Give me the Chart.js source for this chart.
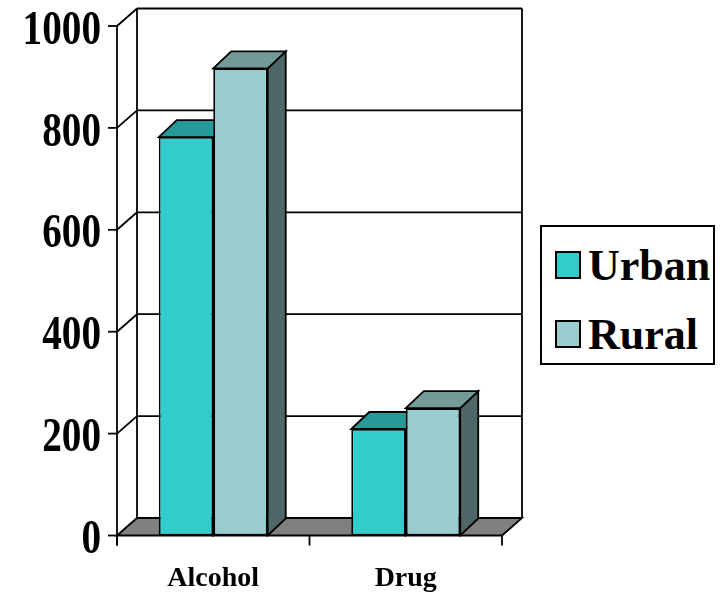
<!DOCTYPE html>
<html>
<head>
<meta charset="utf-8">
<script src="https://cdn.jsdelivr.net/npm/chart.js@4.4.1/dist/chart.umd.min.js"></script>
<style>
  body { margin: 0; background: #fff; }
  #wrap { position: relative; width: 724px; height: 595px; }
  #legend {
    position: absolute; left: 540px; top: 225px; width: 175px; height: 140px;
    border: 2px solid #000; box-sizing: border-box; background: #fff;
    font: bold 44px "Liberation Serif", "Times New Roman", serif;
  }
  #legend .row { position: absolute; left: 13px; height: 50px; display: flex; align-items: center; }
  #legend .sw { width: 26px; height: 28px; border: 2px solid #000; box-sizing: border-box; margin-right: 7px; }
</style>
</head>
<body>
<div id="wrap">
  <canvas id="chart" width="724" height="595"></canvas>
  <div id="legend"></div>
</div>
<script>
const categories = ["Alcohol", "Drug"];
const urban = [782, 209];
const rural = [917, 250];
const seriesNames = ["Urban", "Rural"];
const yMax = 1000;
const yStep = 200;

const DX = 20, DY = 17.5;   // depth of walls/floor
const BX = 18, BY = 17;     // depth of bars

function line(ctx, x1, y1, x2, y2) {
  ctx.beginPath(); ctx.moveTo(x1, y1); ctx.lineTo(x2, y2); ctx.stroke();
}
function poly(ctx, pts, fill) {
  ctx.beginPath();
  pts.forEach((p, i) => i ? ctx.lineTo(p[0], p[1]) : ctx.moveTo(p[0], p[1]));
  ctx.closePath();
  ctx.fillStyle = fill; ctx.fill(); ctx.stroke();
}

const box3d = {
  id: "box3d",
  beforeDatasetsDraw(chart) {
    const ctx = chart.ctx, a = chart.chartArea;
    const ys = chart.scales.y, xs = chart.scales.x;
    const y0 = ys.getPixelForValue(0), yTop = ys.getPixelForValue(yMax);
    ctx.save();
    ctx.lineWidth = 1.8;
    ctx.strokeStyle = "#000";

    // back wall + side wall lines
    ys.ticks.forEach(t => {
      const py = ys.getPixelForValue(t.value);
      if (t.value > 0) {
        line(ctx, a.left + DX, py - DY, a.right + DX, py - DY);
        line(ctx, a.left, py, a.left + DX, py - DY);
      }
      line(ctx, a.left - 9, py, a.left, py);
    });
    line(ctx, a.left + DX, yTop - DY, a.left + DX, y0 - DY);
    line(ctx, a.right + DX, yTop - DY, a.right + DX, y0 - DY);

    // floor
    poly(ctx, [[a.left, y0], [a.left + DX, y0 - DY], [a.right + DX, y0 - DY], [a.right, y0]], "#808080");

    // front axis
    line(ctx, a.left, yTop, a.left, y0 + 10);
    const step = xs.getPixelForValue(1) - xs.getPixelForValue(0);
    for (let i = 0; i <= categories.length; i++) {
      const px = xs.getPixelForValue(0) - step / 2 + i * step;
      line(ctx, px, y0, px, y0 + 10);
    }

    // bar tops and sides
    chart.data.datasets.forEach((ds, i) => {
      chart.getDatasetMeta(i).data.forEach(bar => {
        const l = bar.x - bar.width / 2, r = bar.x + bar.width / 2, t = bar.y, b = bar.base;
        poly(ctx, [[r, t], [r + BX, t - BY], [r + BX, b - BY], [r, b]], ds.sideColor);
        poly(ctx, [[l, t], [l + BX, t - BY], [r + BX, t - BY], [r, t]], ds.topColor);
      });
    });
    ctx.restore();
  },
  afterDraw(chart) {
    const ctx = chart.ctx, ys = chart.scales.y, a = chart.chartArea;
    ctx.save();
    ctx.fillStyle = "#000";
    ctx.font = "bold 49px 'Liberation Serif', 'Times New Roman', serif";
    ctx.textAlign = "right";
    ctx.textBaseline = "middle";
    ys.ticks.forEach(t => {
      const py = ys.getPixelForValue(t.value);
      ctx.save();
      ctx.translate(a.left - 16, py + 5);
      ctx.scale(0.8, 1);
      ctx.fillText(String(t.value), 0, 0);
      ctx.restore();
    });
    ctx.restore();
  }
};

const chart = new Chart(document.getElementById("chart"), {
  type: "bar",
  data: {
    labels: categories,
    datasets: [
      { label: seriesNames[0], data: urban, backgroundColor: "#33CCCC", topColor: "#269999", sideColor: "#1F7A7A",
        borderColor: "#000", borderWidth: 1.8, borderSkipped: false },
      { label: seriesNames[1], data: rural, backgroundColor: "#99CCCC", topColor: "#739B99", sideColor: "#4D6866",
        borderColor: "#000", borderWidth: 1.8, borderSkipped: false }
    ]
  },
  options: {
    responsive: false,
    devicePixelRatio: 1,
    animation: false,
    categoryPercentage: 0.566,
    barPercentage: 1,
    layout: { padding: { top: 26, right: 222, left: 0, bottom: 0 } },
    plugins: { legend: { display: false }, tooltip: { enabled: false } },
    scales: {
      y: {
        min: 0, max: yMax,
        ticks: { stepSize: yStep, display: false },
        grid: { display: false },
        border: { display: false },
        afterFit(s) { s.width = 117; }
      },
      x: {
        ticks: { color: "#000", padding: 26, font: { family: "'Liberation Serif', 'Times New Roman', serif", size: 28, weight: "bold" } },
        grid: { display: false, drawTicks: false },
        border: { display: false },
        afterFit(s) { s.height = 59.5; }
      }
    }
  },
  plugins: [box3d]
});

const legend = document.getElementById("legend");
chart.data.datasets.forEach((ds, i) => {
  const row = document.createElement("div");
  row.className = "row";
  row.style.top = (13 + i * 69) + "px";
  const sw = document.createElement("span");
  sw.className = "sw";
  sw.style.background = ds.backgroundColor;
  const tx = document.createElement("span");
  tx.textContent = ds.label;
  row.appendChild(sw);
  row.appendChild(tx);
  legend.appendChild(row);
});
</script>
</body>
</html>
